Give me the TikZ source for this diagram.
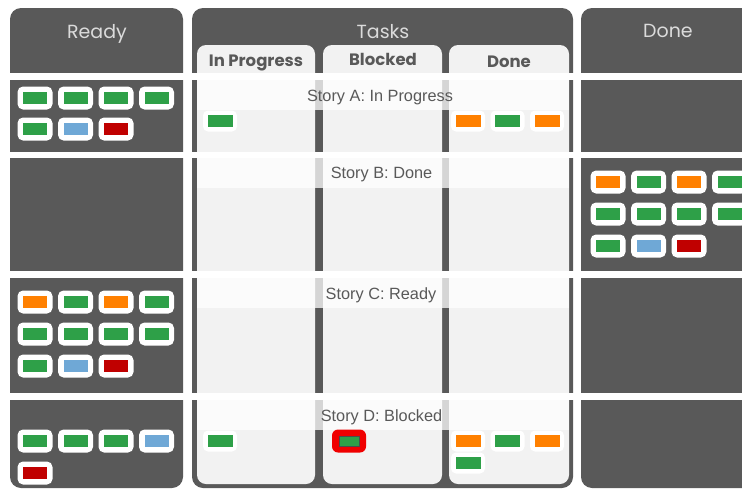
\documentclass[tikz,border=0pt]{standalone}
\usepackage{fontspec}
\newfontfamily\headfont{Poppins}
\newfontfamily\storyfont{Liberation Sans}
\definecolor{slate}{RGB}{89,89,89}
\definecolor{paper}{RGB}{242,242,242}
\definecolor{cgreen}{RGB}{46,160,72}
\definecolor{corange}{RGB}{255,128,0}
\definecolor{cblue}{RGB}{111,168,214}
\definecolor{cred}{RGB}{192,0,0}
\definecolor{flag}{RGB}{240,0,0}

\begin{document}
\begin{tikzpicture}[x=1pt, y=-1pt,
  col/.style={fill=slate, rounded corners=11pt},
  lane/.style={fill=paper, rounded corners=9pt},
  gap/.style={fill=white},
  band/.style={fill=white, opacity=0.75},
  head/.style={anchor=base, font=\headfont\fontsize{19}{22}\selectfont, text=white!86!black},
  tab/.style={anchor=base, font=\headfont\bfseries\fontsize{16.5}{20}\selectfont, text=slate},
  story/.style={anchor=base, font=\storyfont\fontsize{16.3}{19}\selectfont, text=slate},
  card/.style={fill=white, rounded corners=5.5pt, minimum width=35pt, minimum height=23pt,
               inner sep=0pt, path picture={\fill[#1, sharp corners]
               ([shift={(-12pt,-6pt)}]path picture bounding box.center) rectangle ++(24pt,12pt);}},
  task/.style={fill=white, rounded corners=5pt, minimum width=34pt, minimum height=21pt,
               inner sep=0pt, path picture={\fill[#1, sharp corners]
               ([shift={(-12.5pt,-6pt)}]path picture bounding box.center) rectangle ++(25pt,12pt);}},
  stuck/.style={fill=flag, rounded corners=6pt, minimum width=34pt, minimum height=23pt,
                inner sep=0pt, path picture={\filldraw[fill=cgreen, draw=black!70, line width=0.6pt, sharp corners]
                ([shift={(-10pt,-5pt)}]path picture bounding box.center) rectangle ++(20pt,10pt);}}
]
\useasboundingbox (0,0) rectangle (742,490);

% columns and lanes
\fill[col] (10,8) rectangle (183,488);
\fill[col] (192,8) rectangle (573,488);
\fill[col] (742,8) -- (581,8) -- (581,488) -- (742,488);
\fill[lane] (197,45) rectangle (315,484);
\fill[lane] (323,45) rectangle (442,484);
\fill[lane] (449,45) rectangle (569,484);

% row gaps and story bands
\foreach \y/\h in {73/7, 152/6, 271/7, 393/7}
  \fill[gap] (0,\y) rectangle (742,\y+\h);
\foreach \y in {80, 158, 278, 400}
  \fill[band] (197,\y) rectangle (569,\y+30);

\node[head] (ready) at (97,38)    {Ready};
\node[head] (tasks) at (383,38.5) {Tasks};
\node[head] (done)  at (668,37.5) {Done};
\node[tab] (inprog)  at (256,66.5) {In Progress};
\node[tab] (blocked) at (383,65.5) {Blocked};
\node[tab] (donetab) at (509,67.5) {Done};

\node[story] (storya) at (380,101.5)   {Story A: In Progress};
\node[story] (storyb) at (381.5,178.5) {Story B: Done};
\node[story] (storyc) at (381,299)     {Story C: Ready};
\node[story] (storyd) at (381.5,421.5) {Story D: Blocked};

\foreach \x/\y/\c [count=\i] in {35/98/cgreen, 75.5/98/cgreen, 116/98/cgreen, 156.5/98/cgreen,
    35/129/cgreen, 75.5/129/cblue, 116/129/cred,
    35/302/corange, 75.5/302/cgreen, 116/302/corange, 156.5/302/cgreen,
    35/334/cgreen, 75.5/334/cgreen, 116/334/cgreen, 156.5/334/cgreen,
    35/366/cgreen, 75.5/366/cblue, 116/366/cred,
    35/441/cgreen, 75.5/441/cgreen, 116/441/cgreen, 156.5/441/cblue,
    35/473/cred}
  \node[card=\c] (rdy\i) at (\x,\y) {};

\foreach \x/\y/\c [count=\i] in {608/182/corange, 648.5/182/cgreen, 689/182/corange, 729.5/182/cgreen,
    608/214/cgreen, 648.5/214/cgreen, 689/214/cgreen, 729.5/214/cgreen,
    608/246/cgreen, 648.5/246/cblue, 689/246/cred}
  \node[card=\c] (dn\i) at (\x,\y) {};

\foreach \x/\y/\c [count=\i] in {220/121/cgreen, 468/121/corange, 507.5/121/cgreen, 547/121/corange,
    220/441/cgreen, 468/441/corange, 507.5/441/cgreen, 547/441/corange, 468/463/cgreen}
  \node[task=\c] (tsk\i) at (\x,\y) {};
\node[stuck] (stuck) at (349,441) {};
\end{tikzpicture}
\end{document}
